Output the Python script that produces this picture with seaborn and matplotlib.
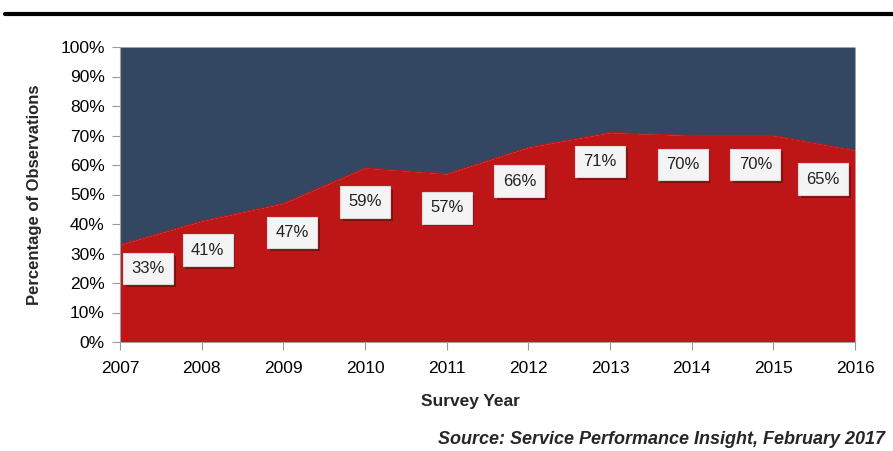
import matplotlib
matplotlib.use("Agg")
import matplotlib.pyplot as plt
import matplotlib.patheffects as pe
import seaborn as sns
import pandas as pd

# Share of observations by survey year (percent)
years = [2007, 2008, 2009, 2010, 2011, 2012, 2013, 2014, 2015, 2016]
share = [33, 41, 47, 59, 57, 66, 71, 70, 70, 65]
y_ticks = list(range(0, 101, 10))

RED = "#BE1517"
NAVY = "#344762"

sns.set_theme(style="white")
plt.rcParams["font.family"] = ["Liberation Sans", "DejaVu Sans"]

df = pd.DataFrame({"year": years, "share": share})

fig = plt.figure(figsize=(8.93, 4.51), dpi=100)
ax = fig.add_axes([120 / 893, 1 - 342 / 451, 735 / 893, 295 / 451])

# stacked area: remainder on top, share at the bottom
ax.fill_between(df["year"], df["share"], 100, color=NAVY, linewidth=0)
ax.fill_between(df["year"], 0, df["share"], color=RED, linewidth=0)
sns.lineplot(data=df, x="year", y="share", ax=ax, color=RED, linewidth=0.8)

ax.set_xlim(years[0], years[-1])
ax.set_ylim(0, 100)
ax.set_xticks(years)
ax.set_xticklabels([str(y) for y in years])
ax.set_yticks(y_ticks)
ax.set_yticklabels([f"{t}%" for t in y_ticks])
ax.tick_params(axis="both", labelsize=12.5, colors="#999999", labelcolor="black",
               length=6, width=0.8, direction="out", left=True, bottom=True)
ax.tick_params(axis="x", pad=8)
ax.tick_params(axis="y", pad=5)
for side in ("top", "right"):
    ax.spines[side].set_visible(False)
for side in ("left", "bottom"):
    ax.spines[side].set_color("#A0A0A0")
    ax.spines[side].set_linewidth(0.8)

ax.set_xlabel("Survey Year", fontsize=12.5, fontweight="bold")
ax.xaxis.set_label_coords((470 - 120) / 735, -0.175)
ax.set_ylabel("Percentage of Observations", fontsize=12, fontweight="bold", labelpad=13)

# value labels in boxes below the boundary
nudge = {0: 28, 1: 6, 2: 9, 5: -9, 6: -10, 7: -9, 8: -18, 9: -32}
for i, (yr, v) in enumerate(zip(years, share)):
    dx = nudge.get(i, 0)
    dy = -24 if i == 0 else (-34 if i in (3, 4, 5) else -29)
    t = ax.annotate(f"{v}%", xy=(yr, v), xytext=(dx, dy), textcoords="offset pixels",
                    ha="center", va="center", fontsize=12, color="#222222",
                    bbox=dict(boxstyle="square,pad=0.5", fc="#F4F4F4", ec="#D8D8D8", lw=0.8))
    t.get_bbox_patch().set_path_effects([pe.SimplePatchShadow(offset=(2, -2), shadow_rgbFace="#5A0A0A", alpha=0.6), pe.Normal()])

# rule across the top
fig.add_artist(plt.Line2D([5 / 893, 1.0], [1 - 14 / 451, 1 - 14 / 451], color="black", linewidth=3))

fig.text(885 / 893, 1 - 440 / 451, "Source: Service Performance Insight, February 2017",
         ha="right", va="center", fontsize=13, fontweight="bold", style="italic")

fig.savefig("out.png", dpi=100)
